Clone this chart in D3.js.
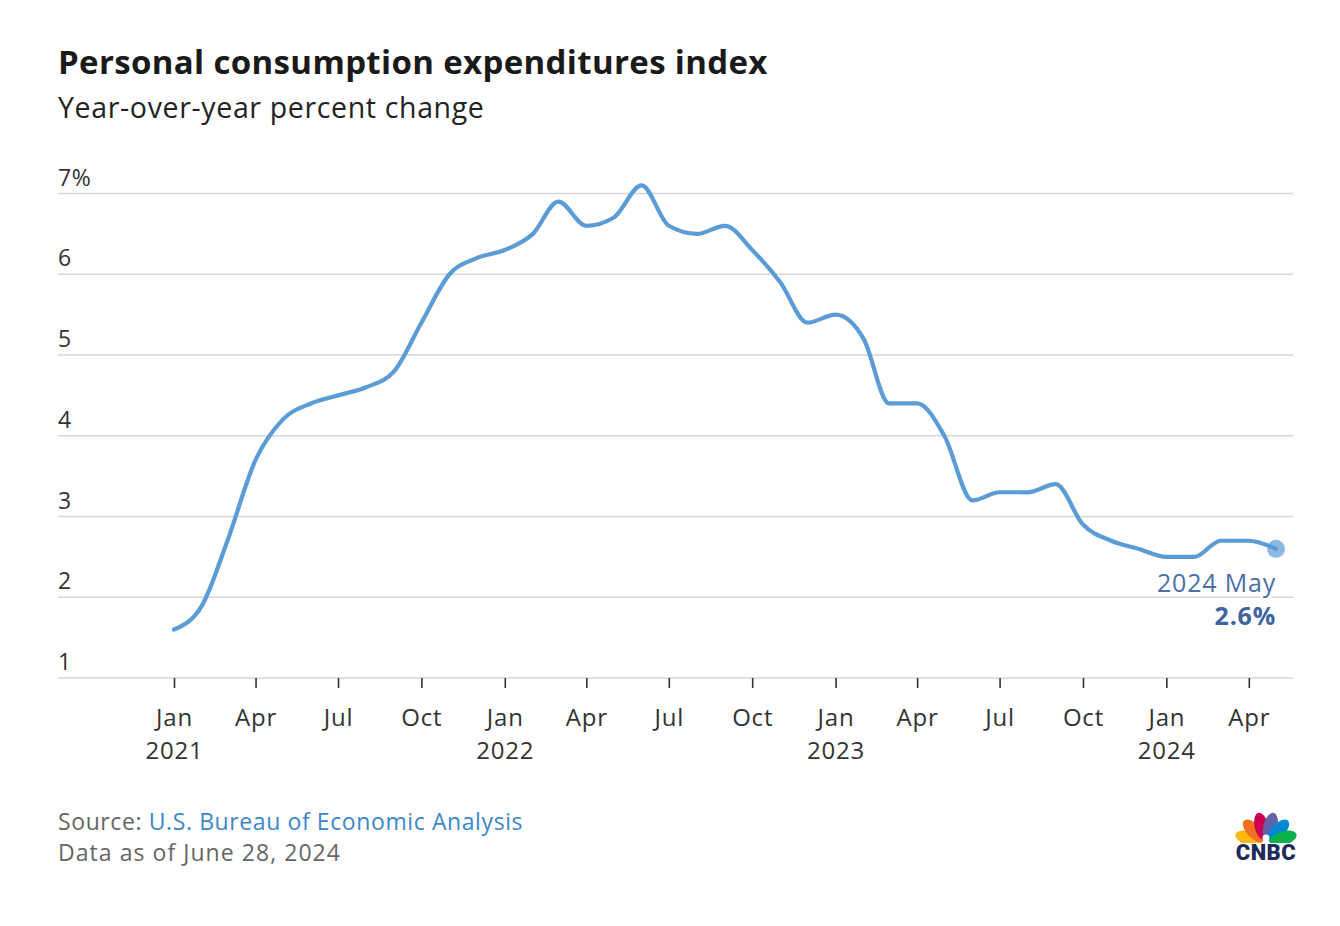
<!DOCTYPE html>
<html>
<head>
<meta charset="utf-8">
<script src="https://cdn.jsdelivr.net/npm/d3@7"></script>
<style>
  html, body { margin: 0; padding: 0; background: #fff; }
  svg { display: block; font-family: "Open Sans", Lato, sans-serif; }
</style>
</head>
<body>
<svg id="chart" width="1340" height="926"></svg>
<script>
// ---- data ----
const months = [
  "2021-01","2021-02","2021-03","2021-04","2021-05","2021-06","2021-07","2021-08","2021-09","2021-10","2021-11","2021-12",
  "2022-01","2022-02","2022-03","2022-04","2022-05","2022-06","2022-07","2022-08","2022-09","2022-10","2022-11","2022-12",
  "2023-01","2023-02","2023-03","2023-04","2023-05","2023-06","2023-07","2023-08","2023-09","2023-10","2023-11","2023-12",
  "2024-01","2024-02","2024-03","2024-04","2024-05"
];
const pceYoY = [
  1.6, 1.9, 2.7, 3.7, 4.2, 4.4, 4.5, 4.6, 4.8, 5.4, 6.0, 6.2,
  6.3, 6.5, 6.9, 6.6, 6.7, 7.1, 6.6, 6.5, 6.6, 6.3, 5.9, 5.4,
  5.5, 5.2, 4.4, 4.4, 4.0, 3.2, 3.3, 3.3, 3.4, 2.9, 2.7, 2.6,
  2.5, 2.5, 2.7, 2.7, 2.6
];
const yTicks = [1, 2, 3, 4, 5, 6, 7];
const xTickMonths = ["2021-01","2021-04","2021-07","2021-10","2022-01","2022-04","2022-07","2022-10",
                     "2023-01","2023-04","2023-07","2023-10","2024-01","2024-04"];
const title = "Personal consumption expenditures index";
const subtitle = "Year-over-year percent change";
const endLabel = "2024 May";
const endValue = "2.6%";

// ---- setup ----
const parse = d3.utcParse("%Y-%m");
const data = months.map((m, i) => ({ date: parse(m), value: pceYoY[i] }));

const svg = d3.select("#chart");
const gridLeft = 58, gridRight = 1293;

const x = d3.scaleUtc()
  .domain([parse("2021-01"), parse("2024-05")])
  .range([174, 1276]);
const y = d3.scaleLinear().domain([1, 7]).range([678, 193.5]);

// title
svg.append("text").attr("x", 58).attr("y", 74)
  .attr("font-size", 33).attr("font-weight", 700).attr("fill", "#1a1a1a")
  .attr("letter-spacing", 0.35)
  .text(title);
svg.append("text").attr("x", 58).attr("y", 118)
  .attr("font-size", 28.5).attr("fill", "#222")
  .attr("letter-spacing", 0.65)
  .text(subtitle);

// gridlines + y labels
const grid = svg.append("g");
yTicks.forEach(t => {
  grid.append("line")
    .attr("x1", gridLeft).attr("x2", gridRight)
    .attr("y1", y(t)).attr("y2", y(t))
    .attr("stroke", "#d6d6d6").attr("stroke-width", 1.5);
  grid.append("text")
    .attr("x", gridLeft).attr("y", y(t) - 8)
    .attr("font-size", 23).attr("fill", "#333")
    .attr("letter-spacing", 0.6)
    .text(t === 7 ? t + "%" : t);
});

// x axis
const xAxis = d3.axisBottom(x)
  .tickValues(xTickMonths.map(parse))
  .tickSize(10)
  .tickFormat("");
const gx = svg.append("g").attr("transform", `translate(0,${y(1)})`).call(xAxis);
gx.select(".domain").remove();
gx.selectAll(".tick line").attr("stroke", "#333").attr("stroke-width", 1.6);
gx.selectAll(".tick").each(function(d) {
  const g = d3.select(this);
  const t = g.append("text").attr("text-anchor", "middle")
    .attr("font-size", 24).attr("fill", "#333")
    .attr("letter-spacing", 0.8)
    .attr("font-family", "'Open Sans', Lato, sans-serif");
  t.append("tspan").attr("x", 0).attr("y", 48).text(d3.utcFormat("%b")(d));
  if (d.getUTCMonth() === 0) {
    t.append("tspan").attr("x", 0).attr("y", 81).text(d3.utcFormat("%Y")(d));
  }
});

// line
const line = d3.line()
  .x(d => x(d.date))
  .y(d => y(d.value))
  .curve(d3.curveMonotoneX);
svg.append("path").datum(data)
  .attr("d", line)
  .attr("fill", "none")
  .attr("stroke", "#5b9bd6")
  .attr("stroke-width", 4.2)
  .attr("stroke-linecap", "round")
  .attr("stroke-linejoin", "round");

// end point
const last = data[data.length - 1];
svg.append("circle")
  .attr("cx", x(last.date)).attr("cy", y(last.value))
  .attr("r", 9).attr("fill", "#5b9bd6").attr("fill-opacity", 0.7);

svg.append("text")
  .attr("x", x(last.date)).attr("y", y(last.value) + 43)
  .attr("text-anchor", "end").attr("font-size", 25).attr("fill", "#4a70a8")
  .attr("letter-spacing", 0.8)
  .attr("stroke", "#fff").attr("stroke-width", 6).attr("paint-order", "stroke")
  .text(endLabel);
svg.append("text")
  .attr("x", x(last.date)).attr("y", y(last.value) + 76)
  .attr("text-anchor", "end").attr("font-size", 25).attr("font-weight", 700).attr("fill", "#3f63a0")
  .attr("letter-spacing", 0.8)
  .text(endValue);

// source
const src = svg.append("text").attr("x", 58).attr("y", 830)
  .attr("font-size", 23).attr("fill", "#666").attr("letter-spacing", 0.6);
src.append("tspan").text("Source: ");
src.append("tspan").attr("fill", "#3b87cc").text("U.S. Bureau of Economic Analysis");
svg.append("text").attr("x", 58).attr("y", 861)
  .attr("font-size", 23).attr("fill", "#666").attr("letter-spacing", 1.05)
  .text("Data as of June 28, 2024");

// CNBC logo
const logo = svg.append("g").attr("transform", "translate(1266,844)");
const featherColors = ["#fcb711", "#f37021", "#cc004c", "#6460aa", "#0089d0", "#0db14b"];
const angles = [-72, -43, -14, 14, 43, 72];
featherColors.forEach((c, i) => {
  logo.append("ellipse")
    .attr("cx", 0).attr("cy", -18).attr("rx", 7).attr("ry", 14)
    .attr("fill", c)
    .attr("transform", `rotate(${angles[i]})`);
});
logo.append("rect").attr("x", -34).attr("y", -1).attr("width", 68).attr("height", 8).attr("fill", "#fff");
logo.append("circle").attr("cx", 0).attr("cy", -6).attr("r", 3.5).attr("fill", "#fff");
svg.append("text").attr("x", 1266).attr("y", 860)
  .attr("text-anchor", "middle").attr("font-size", 22).attr("font-weight", 900)
  .attr("fill", "#1f2a5a").attr("font-family", "Roboto, Lato, sans-serif")
  .attr("letter-spacing", 0.5)
  .text("CNBC");
</script>
</body>
</html>
